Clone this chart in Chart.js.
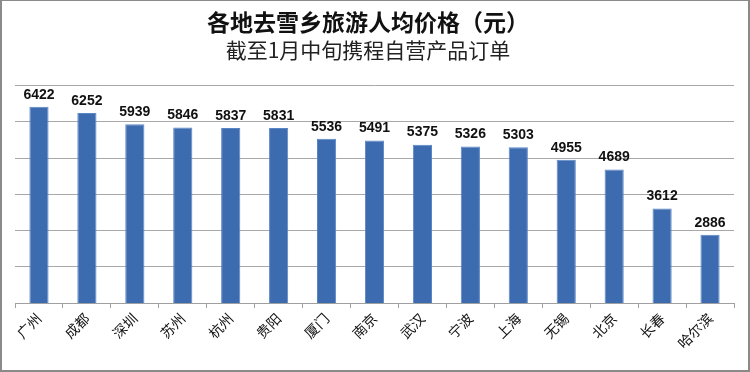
<!DOCTYPE html>
<html>
<head>
<meta charset="utf-8">
<script src="https://cdn.jsdelivr.net/npm/chart.js@4"></script>
<style>
  body { margin: 0; background: #fff; }
  #wrap { width: 750px; height: 372px; box-sizing: border-box; border: 2px solid #8a8a8a; border-top-width: 1px; }
</style>
</head>
<body>
<div id="wrap"><canvas id="bar_chart" width="746" height="369"></canvas></div>
<script>
const cities = ["广州", "成都", "深圳", "苏州", "杭州", "贵阳", "厦门", "南京", "武汉", "宁波", "上海", "无锡", "北京", "长春", "哈尔滨"];
const prices = [6422, 6252, 5939, 5846, 5837, 5831, 5536, 5491, 5375, 5326, 5303, 4955, 4689, 3612, 2886];
const yTicks = [1000, 2000, 3000, 4000, 5000, 6000, 7000];

const CJK = "'Noto Sans CJK SC', sans-serif";

// values above each bar
const barLabels = {
  id: 'barLabels',
  afterDatasetsDraw(chart) {
    const ctx = chart.ctx;
    const meta = chart.getDatasetMeta(0);
    ctx.save();
    ctx.font = "bold 14px 'Liberation Sans', sans-serif";
    ctx.fillStyle = '#111';
    ctx.textAlign = 'center';
    ctx.textBaseline = 'bottom';
    meta.data.forEach((bar, i) => {
      ctx.fillText(String(prices[i]), bar.x, bar.y - 5);
    });
    ctx.restore();
  }
};

new Chart(document.getElementById('bar_chart'), {
  type: 'bar',
  data: {
    labels: cities,
    datasets: [{
      data: prices,
      backgroundColor: '#3d6bb0',
      borderColor: '#5a86c6',
      borderWidth: 1,
      categoryPercentage: 1,
      barPercentage: 0.4
    }]
  },
  options: {
    responsive: false,
    animation: false,
    layout: { padding: { left: 0, right: 14, top: 4, bottom: 0 } },
    plugins: {
      legend: { display: false },
      tooltip: { enabled: false },
      title: {
        display: true,
        text: '各地去雪乡旅游人均价格（元）',
        color: '#111',
        font: { family: CJK, size: 23, weight: 'bold' },
        padding: { top: 3, bottom: 2 }
      },
      subtitle: {
        display: true,
        text: '截至1月中旬携程自营产品订单',
        color: '#222',
        font: { family: CJK, size: 21, weight: 'normal' },
        padding: { top: 0, bottom: 23 }
      }
    },
    scales: {
      x: {
        grid: { display: true, drawOnChartArea: false, drawTicks: true, tickLength: 5, color: '#a0a0a0' },
        border: { display: true, color: '#a0a0a0' },
        ticks: {
          color: '#111',
          font: { family: CJK, size: 14 },
          minRotation: 45,
          maxRotation: 45,
          padding: 2
        },
        afterFit(scale) { scale.height = 67; }
      },
      y: {
        min: 1000,
        max: 7000,
        afterBuildTicks(scale) { scale.ticks = yTicks.map(v => ({ value: v })); },
        grid: { color: '#a8a8a8', drawTicks: false },
        border: { display: false },
        ticks: { display: false },
        afterFit(scale) { scale.width = 13; }
      }
    }
  },
  plugins: [barLabels]
});
</script>
</body>
</html>
